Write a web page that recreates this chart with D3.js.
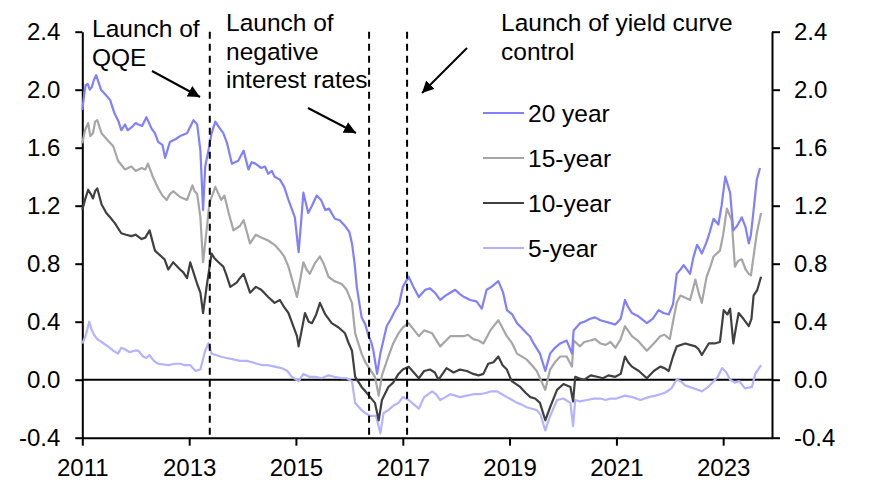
<!DOCTYPE html>
<html>
<head>
<meta charset="utf-8">
<script src="https://cdn.jsdelivr.net/npm/d3@7"></script>
<style>
  body { margin: 0; background: #fff; }
  svg { display: block; font-family: "Liberation Sans", Arial, sans-serif; }
</style>
</head>
<body>
<svg id="chart" width="876" height="489"></svg>
<script>
// JGB yields (%): [decimal year, value]
const yield20 = [
  [2011.00, 1.86], [2011.04, 1.98], [2011.06, 2.03], [2011.10, 2.04], [2011.14, 2.00], [2011.18, 2.02],
  [2011.22, 2.07], [2011.26, 2.10], [2011.35, 2.00], [2011.45, 1.96], [2011.52, 1.93], [2011.60, 1.84],
  [2011.68, 1.78], [2011.73, 1.72], [2011.80, 1.76], [2011.85, 1.72], [2011.92, 1.74], [2012.00, 1.77],
  [2012.05, 1.76], [2012.12, 1.75], [2012.20, 1.81], [2012.30, 1.73], [2012.36, 1.70], [2012.42, 1.64],
  [2012.50, 1.62], [2012.55, 1.53], [2012.64, 1.64], [2012.75, 1.66], [2012.83, 1.68], [2012.96, 1.70],
  [2013.08, 1.79], [2013.15, 1.76], [2013.21, 1.58], [2013.26, 1.17], [2013.30, 1.47], [2013.36, 1.58],
  [2013.42, 1.70], [2013.49, 1.78], [2013.58, 1.73], [2013.64, 1.70], [2013.71, 1.63], [2013.80, 1.49],
  [2013.92, 1.51], [2014.02, 1.58], [2014.11, 1.45], [2014.17, 1.50], [2014.24, 1.49], [2014.35, 1.46],
  [2014.42, 1.47], [2014.48, 1.42], [2014.55, 1.44], [2014.60, 1.40], [2014.70, 1.38], [2014.78, 1.33],
  [2014.86, 1.24], [2014.98, 1.12], [2015.05, 0.88], [2015.10, 1.10], [2015.14, 1.29], [2015.23, 1.15],
  [2015.30, 1.20], [2015.39, 1.27], [2015.47, 1.24], [2015.55, 1.17], [2015.62, 1.18], [2015.73, 1.11],
  [2015.82, 1.10], [2015.92, 1.06], [2016.00, 1.02], [2016.05, 0.94], [2016.10, 0.80], [2016.14, 0.64],
  [2016.23, 0.43], [2016.30, 0.38], [2016.36, 0.30], [2016.41, 0.26], [2016.45, 0.20], [2016.52, 0.04],
  [2016.58, 0.18], [2016.70, 0.37], [2016.78, 0.42], [2016.86, 0.48], [2016.93, 0.52], [2017.00, 0.64],
  [2017.11, 0.71], [2017.20, 0.64], [2017.30, 0.57], [2017.42, 0.62], [2017.51, 0.63], [2017.60, 0.60],
  [2017.70, 0.55], [2017.80, 0.58], [2017.89, 0.60], [2017.98, 0.62], [2018.07, 0.59], [2018.15, 0.57],
  [2018.26, 0.55], [2018.38, 0.54], [2018.48, 0.49], [2018.57, 0.62], [2018.66, 0.64], [2018.79, 0.68],
  [2018.88, 0.60], [2018.95, 0.48], [2019.05, 0.45], [2019.14, 0.39], [2019.22, 0.36], [2019.32, 0.32],
  [2019.38, 0.30], [2019.45, 0.25], [2019.57, 0.18], [2019.67, 0.06], [2019.76, 0.18], [2019.85, 0.22],
  [2019.95, 0.25], [2020.07, 0.27], [2020.17, 0.18], [2020.20, 0.34], [2020.32, 0.39], [2020.40, 0.40],
  [2020.51, 0.42], [2020.60, 0.43], [2020.70, 0.41], [2020.80, 0.40], [2020.89, 0.39], [2020.98, 0.38],
  [2021.08, 0.42], [2021.16, 0.55], [2021.22, 0.50], [2021.29, 0.46], [2021.40, 0.44], [2021.57, 0.39],
  [2021.68, 0.42], [2021.79, 0.48], [2021.88, 0.46], [2021.98, 0.45], [2022.06, 0.52], [2022.13, 0.73],
  [2022.20, 0.76], [2022.26, 0.79], [2022.38, 0.73], [2022.44, 0.84], [2022.51, 0.93], [2022.56, 0.90],
  [2022.60, 0.87], [2022.69, 0.95], [2022.75, 1.02], [2022.82, 1.11], [2022.91, 1.07], [2022.97, 1.20],
  [2023.04, 1.40], [2023.13, 1.29], [2023.19, 1.03], [2023.26, 1.06], [2023.35, 1.12], [2023.42, 1.05],
  [2023.48, 0.94], [2023.52, 1.00], [2023.57, 1.17], [2023.63, 1.38], [2023.69, 1.46]
];

const yield15 = [
  [2011.00, 1.63], [2011.05, 1.72], [2011.11, 1.77], [2011.15, 1.68], [2011.20, 1.70], [2011.24, 1.78],
  [2011.28, 1.79], [2011.36, 1.70], [2011.48, 1.65], [2011.58, 1.61], [2011.67, 1.51], [2011.80, 1.45],
  [2011.92, 1.47], [2012.00, 1.44], [2012.11, 1.46], [2012.18, 1.45], [2012.23, 1.49], [2012.32, 1.40],
  [2012.42, 1.32], [2012.50, 1.27], [2012.58, 1.24], [2012.64, 1.28], [2012.70, 1.30], [2012.83, 1.26],
  [2012.96, 1.24], [2013.06, 1.34], [2013.10, 1.30], [2013.15, 1.28], [2013.21, 1.12], [2013.26, 0.81],
  [2013.32, 1.01], [2013.38, 1.22], [2013.49, 1.33], [2013.60, 1.24], [2013.66, 1.27], [2013.74, 1.15],
  [2013.83, 1.03], [2013.95, 1.06], [2014.02, 1.10], [2014.14, 0.94], [2014.25, 1.00], [2014.35, 0.98],
  [2014.48, 0.96], [2014.60, 0.93], [2014.70, 0.89], [2014.78, 0.85], [2014.86, 0.78], [2015.02, 0.57],
  [2015.14, 0.81], [2015.20, 0.76], [2015.26, 0.73], [2015.35, 0.80], [2015.45, 0.85], [2015.52, 0.80],
  [2015.61, 0.71], [2015.72, 0.68], [2015.86, 0.66], [2015.95, 0.62], [2016.05, 0.53], [2016.11, 0.32],
  [2016.23, 0.18], [2016.30, 0.12], [2016.39, 0.07], [2016.48, 0.02], [2016.55, -0.11], [2016.61, 0.03],
  [2016.73, 0.16], [2016.82, 0.25], [2016.92, 0.32], [2017.00, 0.36], [2017.11, 0.39], [2017.30, 0.30],
  [2017.40, 0.34], [2017.55, 0.32], [2017.70, 0.23], [2017.89, 0.30], [2018.00, 0.30], [2018.14, 0.30],
  [2018.22, 0.31], [2018.32, 0.28], [2018.42, 0.27], [2018.51, 0.25], [2018.64, 0.34], [2018.79, 0.41],
  [2018.95, 0.30], [2019.05, 0.25], [2019.14, 0.18], [2019.32, 0.14], [2019.42, 0.10], [2019.51, 0.06],
  [2019.67, -0.07], [2019.76, 0.07], [2019.85, 0.12], [2019.95, 0.16], [2020.07, 0.16], [2020.17, 0.09],
  [2020.20, 0.27], [2020.32, 0.23], [2020.40, 0.26], [2020.51, 0.27], [2020.60, 0.28], [2020.70, 0.25],
  [2020.80, 0.24], [2020.89, 0.26], [2020.98, 0.22], [2021.08, 0.28], [2021.16, 0.37], [2021.29, 0.30],
  [2021.40, 0.27], [2021.57, 0.20], [2021.70, 0.25], [2021.82, 0.30], [2021.90, 0.31], [2022.00, 0.28],
  [2022.06, 0.40], [2022.13, 0.53], [2022.20, 0.58], [2022.26, 0.57], [2022.38, 0.55], [2022.48, 0.69],
  [2022.54, 0.60], [2022.60, 0.53], [2022.69, 0.71], [2022.76, 0.78], [2022.82, 0.85], [2022.94, 0.89],
  [2023.00, 1.00], [2023.07, 1.18], [2023.16, 1.10], [2023.22, 0.78], [2023.28, 0.82], [2023.35, 0.83],
  [2023.42, 0.76], [2023.48, 0.73], [2023.52, 0.72], [2023.57, 0.85], [2023.63, 1.01], [2023.71, 1.15]
];

const yield10 = [
  [2011.00, 1.17], [2011.05, 1.24], [2011.11, 1.31], [2011.16, 1.28], [2011.20, 1.25], [2011.24, 1.30],
  [2011.28, 1.32], [2011.36, 1.21], [2011.45, 1.15], [2011.52, 1.12], [2011.61, 1.08], [2011.73, 1.01],
  [2011.82, 1.00], [2011.92, 0.99], [2012.00, 1.00], [2012.11, 0.97], [2012.18, 0.98], [2012.26, 1.03],
  [2012.36, 0.89], [2012.48, 0.85], [2012.54, 0.83], [2012.61, 0.76], [2012.70, 0.81], [2012.83, 0.76],
  [2012.89, 0.74], [2012.96, 0.70], [2013.02, 0.81], [2013.08, 0.74], [2013.15, 0.66], [2013.21, 0.60],
  [2013.26, 0.46], [2013.33, 0.65], [2013.42, 0.87], [2013.47, 0.84], [2013.52, 0.82], [2013.58, 0.80],
  [2013.64, 0.78], [2013.70, 0.72], [2013.77, 0.64], [2013.89, 0.67], [2013.95, 0.70], [2014.02, 0.73],
  [2014.14, 0.60], [2014.25, 0.64], [2014.35, 0.62], [2014.48, 0.57], [2014.60, 0.53], [2014.70, 0.55],
  [2014.78, 0.50], [2014.86, 0.46], [2015.02, 0.30], [2015.05, 0.23], [2015.17, 0.46], [2015.24, 0.40],
  [2015.30, 0.39], [2015.38, 0.45], [2015.45, 0.53], [2015.55, 0.45], [2015.67, 0.39], [2015.80, 0.36],
  [2015.92, 0.32], [2015.98, 0.26], [2016.05, 0.20], [2016.11, 0.02], [2016.23, -0.05], [2016.30, -0.08],
  [2016.39, -0.12], [2016.48, -0.16], [2016.55, -0.28], [2016.61, -0.14], [2016.73, -0.05], [2016.82, -0.02],
  [2016.92, 0.04], [2017.00, 0.07], [2017.11, 0.09], [2017.30, 0.01], [2017.40, 0.06], [2017.51, 0.07],
  [2017.60, 0.05], [2017.67, 0.00], [2017.82, 0.08], [2017.95, 0.05], [2018.07, 0.07], [2018.20, 0.06],
  [2018.32, 0.04], [2018.42, 0.03], [2018.51, 0.04], [2018.60, 0.11], [2018.70, 0.12], [2018.79, 0.16],
  [2018.87, 0.10], [2018.95, 0.07], [2019.04, -0.01], [2019.20, -0.05], [2019.30, -0.09], [2019.39, -0.12],
  [2019.48, -0.13], [2019.57, -0.16], [2019.67, -0.28], [2019.76, -0.19], [2019.89, -0.07], [2020.01, -0.03],
  [2020.14, -0.05], [2020.19, -0.15], [2020.23, 0.02], [2020.30, 0.01], [2020.40, 0.00], [2020.52, 0.03],
  [2020.64, 0.02], [2020.75, 0.01], [2020.85, 0.03], [2020.98, 0.02], [2021.08, 0.04], [2021.16, 0.16],
  [2021.22, 0.12], [2021.29, 0.09], [2021.42, 0.06], [2021.57, 0.01], [2021.70, 0.06], [2021.82, 0.09],
  [2021.90, 0.08], [2021.98, 0.06], [2022.06, 0.16], [2022.13, 0.23], [2022.29, 0.25], [2022.38, 0.24],
  [2022.48, 0.23], [2022.54, 0.21], [2022.60, 0.17], [2022.73, 0.25], [2022.84, 0.25], [2022.94, 0.26],
  [2023.01, 0.48], [2023.08, 0.45], [2023.13, 0.49], [2023.19, 0.25], [2023.24, 0.36], [2023.29, 0.46],
  [2023.38, 0.42], [2023.48, 0.37], [2023.53, 0.42], [2023.57, 0.58], [2023.64, 0.62], [2023.71, 0.71]
];

const yield5 = [
  [2011.00, 0.25], [2011.06, 0.30], [2011.13, 0.40], [2011.17, 0.35], [2011.22, 0.31], [2011.28, 0.28],
  [2011.36, 0.26], [2011.48, 0.23], [2011.58, 0.20], [2011.67, 0.18], [2011.73, 0.22], [2011.80, 0.21],
  [2011.88, 0.19], [2011.98, 0.20], [2012.05, 0.20], [2012.14, 0.16], [2012.20, 0.15], [2012.26, 0.17],
  [2012.34, 0.13], [2012.42, 0.11], [2012.61, 0.10], [2012.72, 0.11], [2012.83, 0.11], [2012.92, 0.10],
  [2013.02, 0.10], [2013.12, 0.06], [2013.21, 0.07], [2013.30, 0.20], [2013.36, 0.25], [2013.42, 0.18],
  [2013.50, 0.17], [2013.58, 0.16], [2013.70, 0.15], [2013.83, 0.14], [2013.95, 0.13], [2014.08, 0.13],
  [2014.18, 0.12], [2014.27, 0.11], [2014.38, 0.10], [2014.48, 0.10], [2014.60, 0.09], [2014.73, 0.08],
  [2014.84, 0.06], [2014.92, 0.02], [2015.05, -0.01], [2015.14, 0.04], [2015.25, 0.02], [2015.36, 0.02],
  [2015.48, 0.01], [2015.61, 0.03], [2015.72, 0.02], [2015.86, 0.01], [2015.95, 0.01], [2016.05, -0.01],
  [2016.11, -0.16], [2016.23, -0.21], [2016.30, -0.23], [2016.39, -0.25], [2016.50, -0.25], [2016.58, -0.37],
  [2016.64, -0.23], [2016.73, -0.21], [2016.82, -0.18], [2016.92, -0.16], [2017.00, -0.12], [2017.11, -0.14],
  [2017.30, -0.20], [2017.40, -0.12], [2017.55, -0.08], [2017.62, -0.10], [2017.70, -0.14], [2017.80, -0.12],
  [2017.89, -0.10], [2017.98, -0.11], [2018.07, -0.12], [2018.20, -0.11], [2018.32, -0.10], [2018.45, -0.10],
  [2018.57, -0.09], [2018.66, -0.08], [2018.76, -0.08], [2018.86, -0.10], [2018.95, -0.12], [2019.05, -0.14],
  [2019.14, -0.16], [2019.22, -0.17], [2019.32, -0.19], [2019.42, -0.20], [2019.51, -0.21], [2019.58, -0.24],
  [2019.67, -0.35], [2019.76, -0.25], [2019.89, -0.14], [2020.01, -0.13], [2020.14, -0.16], [2020.19, -0.32],
  [2020.23, -0.14], [2020.32, -0.15], [2020.45, -0.14], [2020.58, -0.13], [2020.70, -0.13], [2020.80, -0.14],
  [2020.89, -0.13], [2021.00, -0.13], [2021.16, -0.11], [2021.30, -0.12], [2021.45, -0.14], [2021.60, -0.12],
  [2021.73, -0.11], [2021.82, -0.10], [2021.91, -0.09], [2022.03, -0.06], [2022.13, 0.00], [2022.20, -0.01],
  [2022.29, -0.04], [2022.45, -0.06], [2022.60, -0.08], [2022.72, -0.05], [2022.82, -0.01], [2022.90, 0.02],
  [2022.98, 0.08], [2023.06, 0.05], [2023.13, 0.00], [2023.22, -0.02], [2023.30, -0.01], [2023.41, -0.06],
  [2023.54, -0.05], [2023.60, 0.04], [2023.71, 0.10]
];

const seriesNames = ["20 year", "15-year", "10-year", "5-year"];
const seriesColors = ["#8080ff", "#a6a6a6", "#404040", "#b3b3ff"];
const seriesData = [yield20, yield15, yield10, yield5];

const yTicks = [-0.4, 0.0, 0.4, 0.8, 1.2, 1.6, 2.0, 2.4];
const xTickYears = [2011, 2013, 2015, 2017, 2019, 2021, 2023];

// policy events (dashed lines), decimal years
const eventDates = [2013.386, 2016.37, 2017.08];
const annotations = [
  { lines: ["Launch of", "QQE"], x: 92, y: 37 },
  { lines: ["Launch of", "negative", "interest rates"], x: 226, y: 31 },
  { lines: ["Launch of yield curve", "control"], x: 501, y: 31 }
];
// arrows [x1, y1, x2, y2]
const arrows = [[152, 71, 200, 97], [308, 108, 356, 133], [467, 48, 422, 93]];

const margin = { top: 31.7, right: 104, bottom: 51.3, left: 82.3 };
const width = 876, height = 489;
const tickFont = 24, textFont = 24.5;

// decimal year -> Date
function toDate(t) {
  const y = Math.floor(t);
  const a = new Date(y, 0, 1), b = new Date(y + 1, 0, 1);
  return new Date(+a + (t - y) * (b - a));
}

const svg = d3.select("#chart");

const x = d3.scaleTime()
  .domain([new Date(2011, 0, 1), new Date(2023, 11, 1)])
  .range([margin.left, width - margin.right]);

const y = d3.scaleLinear()
  .domain([-0.4, 2.4])
  .range([height - margin.bottom, margin.top]);

const fmt = d => d.toFixed(1);

// Left axis
const leftAxis = svg.append("g")
  .attr("transform", `translate(${margin.left},0)`)
  .call(d3.axisLeft(y).tickValues(yTicks).tickFormat(fmt).tickSize(7).tickSizeOuter(0).tickPadding(15));

// Right axis
const rightAxis = svg.append("g")
  .attr("transform", `translate(${width - margin.right},0)`)
  .call(d3.axisRight(y).tickValues(yTicks).tickFormat(fmt).tickSize(8).tickSizeOuter(0).tickPadding(14));

// Bottom axis
const bottomAxis = svg.append("g")
  .attr("transform", `translate(0,${height - margin.bottom})`)
  .call(d3.axisBottom(x).tickValues(xTickYears.map(yr => new Date(yr, 0, 1)))
    .tickFormat(d3.timeFormat("%Y")).tickSize(8).tickSizeOuter(0).tickPadding(13));

[leftAxis, rightAxis, bottomAxis].forEach(g => {
  g.selectAll("path.domain").attr("stroke", "#000").attr("stroke-width", 2);
  g.selectAll(".tick line").attr("stroke", "#000").attr("stroke-width", 2);
  g.selectAll(".tick text").attr("fill", "#000").style("font-size", tickFont + "px")
    .style("font-family", "'Liberation Sans', Arial, sans-serif");
});

// Zero line
svg.append("line")
  .attr("x1", margin.left).attr("x2", width - margin.right)
  .attr("y1", y(0)).attr("y2", y(0))
  .attr("stroke", "#000").attr("stroke-width", 2);

// Series lines (5y first so darker lines sit on top)
const line = d3.line()
  .x(d => x(toDate(d[0])))
  .y(d => y(d[1]));

[3, 1, 0, 2].forEach(i => {
  svg.append("path")
    .datum(seriesData[i])
    .attr("fill", "none")
    .attr("stroke", seriesColors[i])
    .attr("stroke-width", 2.2)
    .attr("stroke-linejoin", "round")
    .attr("d", line);
});

// Event lines
svg.selectAll(".event")
  .data(eventDates)
  .enter()
  .append("line")
  .attr("class", "event")
  .attr("x1", d => x(toDate(d))).attr("x2", d => x(toDate(d)))
  .attr("y1", margin.top).attr("y2", height - margin.bottom)
  .attr("stroke", "#000")
  .attr("stroke-width", 2)
  .attr("stroke-dasharray", "7,5");

// Arrow marker
svg.append("defs").append("marker")
  .attr("id", "arrowhead")
  .attr("viewBox", "0 0 10 10")
  .attr("refX", 10).attr("refY", 5)
  .attr("markerWidth", 6).attr("markerHeight", 6)
  .attr("markerUnits", "strokeWidth")
  .attr("orient", "auto")
  .append("path")
  .attr("d", "M0,0 L10,5 L0,10 z")
  .attr("fill", "#000");

svg.selectAll(".arrow")
  .data(arrows)
  .enter()
  .append("line")
  .attr("class", "arrow")
  .attr("x1", d => d[0]).attr("y1", d => d[1])
  .attr("x2", d => d[2]).attr("y2", d => d[3])
  .attr("stroke", "#000")
  .attr("stroke-width", 2)
  .attr("marker-end", "url(#arrowhead)");

// Annotation texts
annotations.forEach(a => {
  const t = svg.append("text")
    .attr("x", a.x).attr("y", a.y)
    .style("font-size", textFont + "px")
    .attr("fill", "#000");
  a.lines.forEach((l, i) => {
    t.append("tspan").attr("x", a.x).attr("y", a.y + i * 28.7).text(l);
  });
});

// Legend
const legend = svg.append("g");
seriesNames.forEach((name, i) => {
  const ly = 113 + i * 45;
  legend.append("line")
    .attr("x1", 483).attr("x2", 524)
    .attr("y1", ly).attr("y2", ly)
    .attr("stroke", seriesColors[i])
    .attr("stroke-width", 2);
  legend.append("text")
    .attr("x", 528).attr("y", ly + 8.5)
    .style("font-size", textFont + "px")
    .attr("fill", "#000")
    .text(name);
});
</script>
</body>
</html>
